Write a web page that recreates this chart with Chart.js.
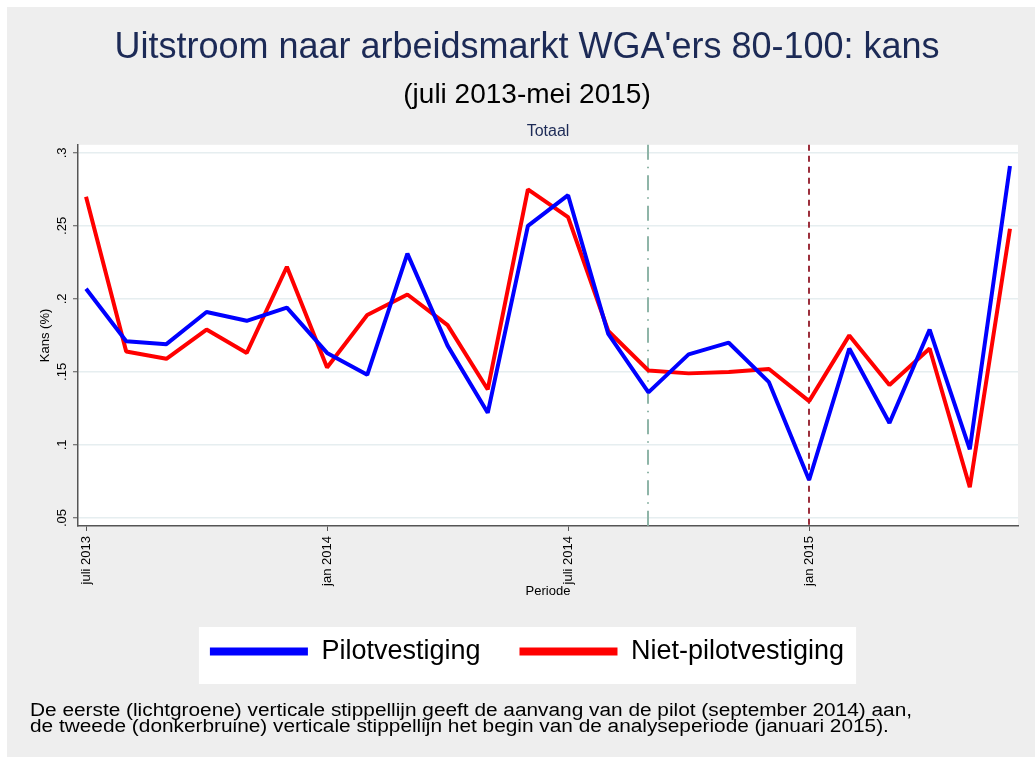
<!DOCTYPE html>
<html>
<head>
<meta charset="utf-8">
<script src="https://cdn.jsdelivr.net/npm/chart.js@4.4.0/dist/chart.umd.min.js"></script>
<style>
  html, body { margin: 0; padding: 0; background: #fff; }
  #wrap { width: 1035px; height: 757px; }
</style>
</head>
<body>
<div id="wrap"><canvas id="chart" width="1035" height="757"></canvas></div>
<script>
// maanden juli 2013 - juni 2015
const months = [
  "jul 2013", "aug 2013", "sep 2013", "okt 2013", "nov 2013", "dec 2013",
  "jan 2014", "feb 2014", "mrt 2014", "apr 2014", "mei 2014", "jun 2014",
  "jul 2014", "aug 2014", "sep 2014", "okt 2014", "nov 2014", "dec 2014",
  "jan 2015", "feb 2015", "mrt 2015", "apr 2015", "mei 2015", "jun 2015"
];
const pilot = [
  0.207, 0.171, 0.169, 0.191, 0.185, 0.194,
  0.163, 0.148, 0.231, 0.168, 0.122, 0.250,
  0.271, 0.176, 0.136, 0.162, 0.170, 0.143,
  0.076, 0.166, 0.115, 0.179, 0.097, 0.291
];
const nietPilot = [
  0.270, 0.164, 0.159, 0.179, 0.163, 0.222,
  0.153, 0.189, 0.203, 0.182, 0.138, 0.275,
  0.256, 0.178, 0.151, 0.149, 0.150, 0.152,
  0.130, 0.175, 0.141, 0.166, 0.071, 0.248
];
const xTicks = [0, 6, 12, 18];
const xTickLabels = ["juli 2013", "jan 2014", "juli 2014", "jan 2015"];
const yTicks = [0.05, 0.1, 0.15, 0.2, 0.25, 0.3];
const yTickLabels = [".05", ".1", ".15", ".2", ".25", ".3"];
const pilotStart = 14;    // september 2014
const analyseStart = 18;  // januari 2015
const footnote = [
  "De eerste (lichtgroene) verticale stippellijn geeft de aanvang van de pilot (september 2014) aan,",
  "de tweede (donkerbruine) verticale stippellijn het begin van de analyseperiode (januari 2015)."
];

const NAVY = "#1c2a56";
Chart.defaults.font.family = "'Liberation Sans', Arial, sans-serif";
Chart.defaults.color = "#000";

// achtergrond, plotvlak en legendakader
const backgrounds = {
  id: "backgrounds",
  beforeDraw(chart) {
    const { ctx, chartArea: a } = chart;
    ctx.save();
    ctx.fillStyle = "#fff";
    ctx.fillRect(0, 0, chart.width, chart.height);
    ctx.fillStyle = "#eeeeee";
    ctx.fillRect(7, 7, chart.width - 7, chart.height - 7);
    ctx.fillStyle = "#fff";
    ctx.fillRect(a.left, a.top, a.right - a.left, a.bottom - a.top);
    const hb = chart.legend.legendHitBoxes;
    if (hb && hb.length) {
      const l = Math.min(...hb.map(h => h.left));
      const r = Math.max(...hb.map(h => h.left + h.width));
      const t = hb[0].top;
      ctx.fillRect(l - 11, t - 11, r - l + 23, 57);
    }
    ctx.restore();
  }
};

// verticale stippellijnen
const refLines = {
  id: "refLines",
  beforeDatasetsDraw(chart) {
    const { ctx, chartArea: a, scales: { x } } = chart;
    const draw = (val, color, dash) => {
      const px = Math.round(x.getPixelForValue(val));
      ctx.save();
      ctx.strokeStyle = color;
      ctx.lineWidth = 2;
      ctx.setLineDash(dash);
      ctx.beginPath();
      ctx.moveTo(px, a.top);
      ctx.lineTo(px, a.bottom);
      ctx.stroke();
      ctx.restore();
    };
    draw(pilotStart, "#8fb5a8", [15, 7, 1.5, 7]);
    draw(analyseStart, "#9c2f3c", [6, 5]);
  }
};

// "Totaal" en voetnoot
const extraText = {
  id: "extraText",
  afterDraw(chart) {
    const { ctx, chartArea: a } = chart;
    ctx.save();
    ctx.fillStyle = NAVY;
    ctx.font = "16px 'Liberation Sans', Arial, sans-serif";
    ctx.textAlign = "center";
    ctx.textBaseline = "middle";
    ctx.fillText("Totaal", (a.left + a.right) / 2, 132);

    // voetnoot, iets breder gezet zoals in het origineel
    ctx.fillStyle = "#000";
    ctx.font = "18px 'Liberation Sans', Arial, sans-serif";
    ctx.textAlign = "left";
    ctx.textBaseline = "alphabetic";
    const k = 882 / ctx.measureText(footnote[0]).width;
    footnote.forEach((line, i) => {
      ctx.save();
      ctx.translate(30, 716 + i * 15.5);
      ctx.scale(k, 1);
      ctx.fillText(line, 0, 0);
      ctx.restore();
    });
    ctx.restore();
  }
};

new Chart(document.getElementById("chart"), {
  type: "line",
  data: {
    datasets: [
      {
        label: "Pilotvestiging",
        data: pilot.map((v, i) => ({ x: i, y: v })),
        borderColor: "#0000ff",
        backgroundColor: "#0000ff",
        borderWidth: 4,
        borderJoinStyle: "bevel",
        pointRadius: 0,
        tension: 0
      },
      {
        label: "Niet-pilotvestiging",
        data: nietPilot.map((v, i) => ({ x: i, y: v })),
        borderColor: "#ff0000",
        backgroundColor: "#ff0000",
        borderWidth: 4,
        borderJoinStyle: "bevel",
        pointRadius: 0,
        tension: 0
      }
    ]
  },
  options: {
    responsive: false,
    animation: false,
    layout: { padding: { left: 36, right: 17, top: 0, bottom: 82 } },
    plugins: {
      title: {
        display: true,
        text: "Uitstroom naar arbeidsmarkt WGA'ers 80-100: kans",
        color: NAVY,
        font: { size: 36, weight: "normal" },
        padding: { top: 26, bottom: 0 }
      },
      subtitle: {
        display: true,
        text: "(juli 2013-mei 2015)",
        color: "#000",
        font: { size: 28, weight: "normal" },
        padding: { top: 9, bottom: 33 }
      },
      legend: {
        position: "bottom",
        labels: {
          boxWidth: 98,
          boxHeight: 8,
          padding: 39,
          color: "#000",
          font: { size: 27 },
          generateLabels: (chart) =>
            Chart.defaults.plugins.legend.labels.generateLabels(chart).map(l => ({ ...l, lineWidth: 0 }))
        }
      },
      tooltip: { enabled: false }
    },
    scales: {
      x: {
        type: "linear",
        min: -0.2,
        max: 23.2,
        afterBuildTicks: (s) => { s.ticks = xTicks.map(v => ({ value: v })); },
        afterFit: (s) => { s.height = 73; },
        ticks: {
          minRotation: 90,
          maxRotation: 90,
          padding: 5,
          font: { size: 13 },
          color: "#000",
          callback: (v) => xTickLabels[xTicks.indexOf(v)]
        },
        grid: { drawOnChartArea: false, drawTicks: true, tickLength: 5, tickColor: "#555", tickWidth: 1 },
        border: { display: true, color: "#555", width: 1.5 },
        title: { display: true, text: "Periode", font: { size: 13 }, color: "#000", padding: { top: 0, bottom: 0 } }
      },
      y: {
        type: "linear",
        min: 0.0445,
        max: 0.3055,
        afterBuildTicks: (s) => { s.ticks = yTicks.map(v => ({ value: v })); },
        afterFit: (s) => { s.width = 42; },
        ticks: {
          minRotation: 90,
          maxRotation: 90,
          crossAlign: "center",
          padding: 2,
          font: { size: 13 },
          color: "#000",
          callback: (v) => yTickLabels[yTicks.indexOf(v)]
        },
        grid: { drawOnChartArea: true, color: "#e6eef0", lineWidth: 1.5, drawTicks: true, tickLength: 5, tickColor: "#555", tickWidth: 1 },
        border: { display: true, color: "#555", width: 1.5 },
        title: { display: true, text: "Kans (%)", font: { size: 13 }, color: "#000", padding: { top: 2, bottom: 0 } }
      }
    }
  },
  plugins: [backgrounds, refLines, extraText]
});
</script>
</body>
</html>
